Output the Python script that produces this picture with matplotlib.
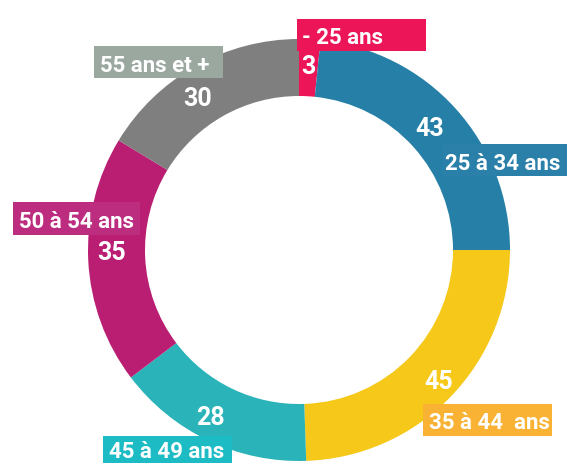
import matplotlib
matplotlib.use("Agg")
import matplotlib.pyplot as plt
from matplotlib.patches import Rectangle

plt.rcParams['font.family'] = ['Roboto', 'DejaVu Sans']

categories = ["- 25 ans", "25 à 34 ans", "35 à 44  ans", "45 à 49 ans", "50 à 54 ans", "55 ans et +"]
values = [3, 43, 45, 28, 35, 30]
wedge_colors = ["#EC1558", "#267FA6", "#F5C819", "#2AB3B8", "#B91E72", "#7F7F7F"]
box_colors = ["#EC1558", "#2A80A8", "#F9B233", "#1DBCC4", "#BC2D80", "#9AA89F"]

W, H = 569, 464
fig = plt.figure(figsize=(W / 100, H / 100), dpi=100)
ax = fig.add_axes([0, 0, 1, 1])

cx, cy, R, ring = 299, H - 251, 211, 57
ax.pie(values, colors=wedge_colors, startangle=90, counterclock=False,
       center=(cx, cy), radius=R, frame=True,
       wedgeprops=dict(width=ring, edgecolor='none', antialiased=True))
ax.set_xlim(0, W)
ax.set_ylim(0, H)
ax.set_aspect('equal')
ax.axis('off')

# label boxes: (left, top, right, bottom, text x, text centre y) in pixel coords
boxes = [
    (297, 20, 426, 52, 302, 36),
    (443, 145, 567, 177, 445, 161),
    (423, 405, 552, 437, 429, 421),
    (103, 437, 232, 470, 109, 450),
    (13, 203, 140, 236, 19, 220),
    (94, 47, 223, 79, 100, 63),
]
numpos = [
    (301, 64, 'left'),
    (430, 127, 'center'),
    (439, 380, 'center'),
    (210, 416, 'center'),
    (112, 251, 'center'),
    (198, 96, 'center'),
]

for cat, val, bc, (l, t, r, b, tx, ty), (nx, ny, ha) in zip(categories, values, box_colors, boxes, numpos):
    ax.add_patch(Rectangle((l, H - b), r - l, b - t, facecolor=bc, edgecolor='none', zorder=3))
    ax.text(tx, H - ty, cat, color='white',
            fontsize=16, fontweight='bold', ha='left', va='center_baseline', zorder=4)
    ax.text(nx, H - ny, str(val), color='white', fontsize=18, fontweight='bold',
            ha=ha, va='center_baseline', zorder=4)

fig.savefig("out.png", dpi=100)
